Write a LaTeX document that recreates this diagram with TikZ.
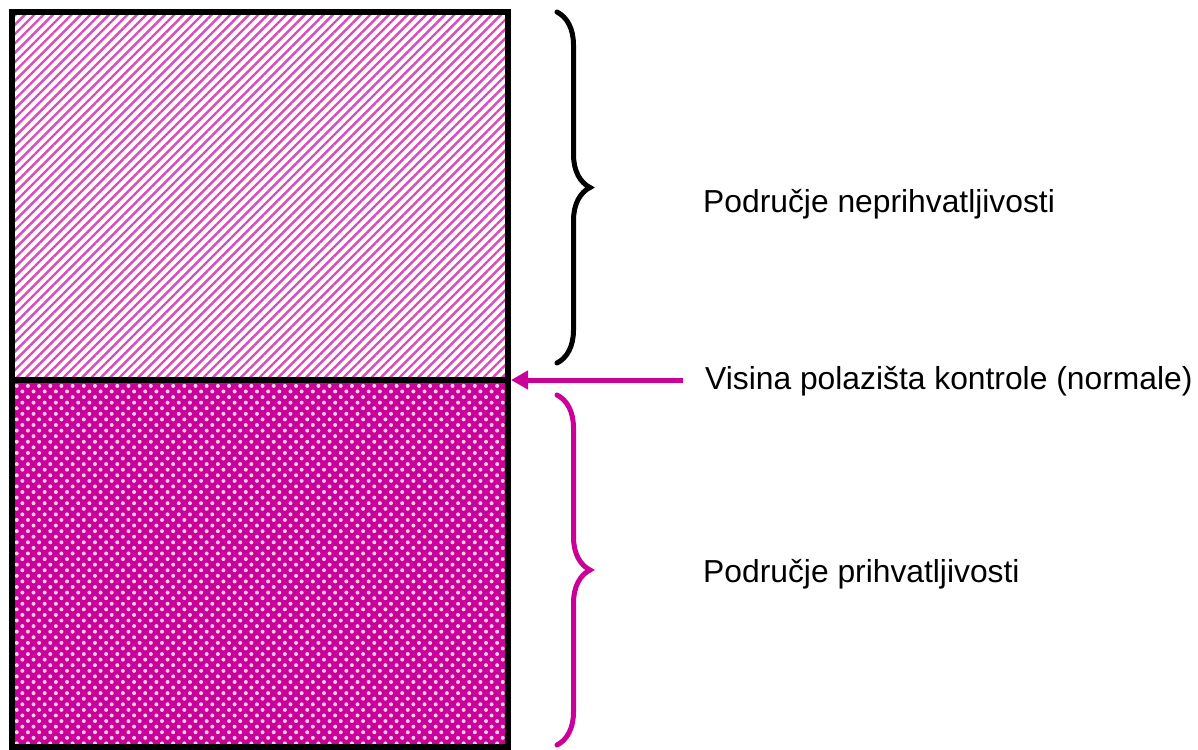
\documentclass[tikz,border=0pt]{standalone}
\usepackage{fontspec}
\setmainfont{Liberation Sans}
\usetikzlibrary{patterns.meta,decorations.pathreplacing,arrows.meta}
\definecolor{mag}{RGB}{202,0,153}
\tikzset{
  frame/.style={line width=6pt, draw=black},
  stripes/.style={pattern={Lines[angle=45,distance=6.6pt,line width=2.4pt]}, pattern color=mag!70},
  dotfill/.style={fill=mag},
  dotpat/.style={pattern={Dots[angle=45,distance=7.9pt,radius=2pt]}, pattern color=white!80!mag},
  bracestyle/.style={line width=5pt, line cap=round, decorate,
    decoration={brace, amplitude=33pt}},
  label/.style={anchor=west, font=\fontsize{31.8pt}{36pt}\selectfont, inner sep=0pt},
  pointer/.style={draw=mag, line width=5pt, -{Triangle[length=17pt,width=18pt]}}
}
\begin{document}
\begin{tikzpicture}[x=1pt,y=-1pt]
  \useasboundingbox (0,0) rectangle (1198,749);
  % corners of the column
  \coordinate (tl) at (12,12);
  \coordinate (br) at (508,747);
  \coordinate (ml) at (12,380);
  \coordinate (mr) at (508,380);
  % upper region: hatched
  \fill[white] (tl) rectangle (mr);
  \fill[stripes] (tl) rectangle (mr);
  % lower region: dotted
  \fill[dotfill] (ml) rectangle (br);
  \fill[dotpat] (ml) rectangle (br);
  % frame and divider
  \draw[frame] (tl) rectangle (br);
  \draw[frame] (ml) -- (mr);
  % braces
  \draw[bracestyle, black] (557,12) -- (557,363);
  \draw[bracestyle, mag] (557,395) -- (557,745);
  % labels
  \node[label] (top) at (703,204) {Područje neprihvatljivosti};
  \node[label] (mid) at (705,381) {Visina polazišta kontrole (normale)};
  \node[label] (bot) at (703,574) {Područje prihvatljivosti};
  % arrow to the divider
  \coordinate (astart) at (683,380);
  \coordinate (aend) at (511,380);
  \draw[pointer] (astart) -- (aend);
\end{tikzpicture}
\end{document}
